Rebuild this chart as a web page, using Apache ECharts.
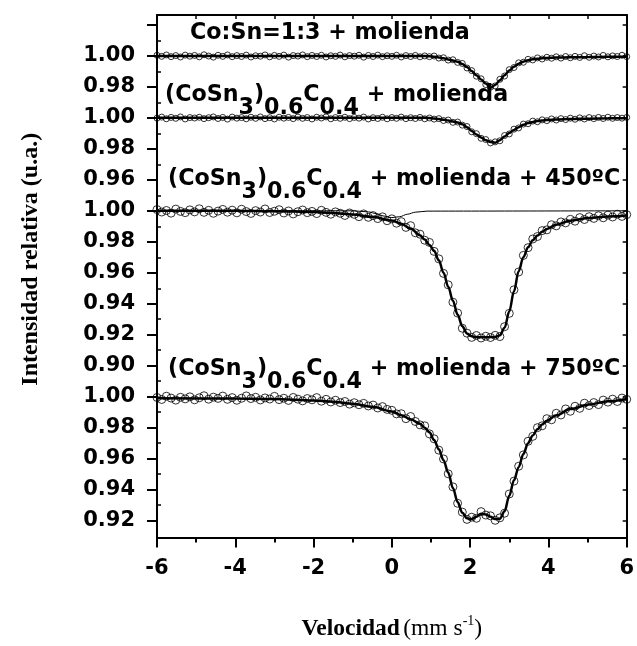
<!DOCTYPE html>
<html>
<head>
<meta charset="utf-8">
<script src="https://cdn.jsdelivr.net/npm/echarts@6/dist/echarts.min.js"></script>
<style>
  html, body { margin: 0; padding: 0; background: #fff; }
  #chart { width: 637px; height: 646px; }
</style>
</head>
<body>
<div id="chart"></div>
<script>
// Velocity channels (mm/s) of the measured spectra
const velocity = [
  -6.00, -5.88, -5.76, -5.64, -5.52, -5.40, -5.28, -5.16, -5.04, -4.92,
  -4.80, -4.68, -4.56, -4.44, -4.32, -4.20, -4.08, -3.96, -3.84, -3.72,
  -3.60, -3.48, -3.36, -3.24, -3.12, -3.00, -2.88, -2.76, -2.64, -2.52,
  -2.40, -2.28, -2.16, -2.04, -1.92, -1.80, -1.68, -1.56, -1.44, -1.32,
  -1.20, -1.08, -0.96, -0.84, -0.72, -0.60, -0.48, -0.36, -0.24, -0.12,
   0.00,  0.12,  0.24,  0.36,  0.48,  0.60,  0.72,  0.84,  0.96,  1.08,
   1.20,  1.32,  1.44,  1.56,  1.68,  1.80,  1.92,  2.04,  2.16,  2.28,
   2.40,  2.52,  2.64,  2.76,  2.88,  3.00,  3.12,  3.24,  3.36,  3.48,
   3.60,  3.72,  3.84,  3.96,  4.08,  4.20,  4.32,  4.44,  4.56,  4.68,
   4.80,  4.92,  5.04,  5.16,  5.28,  5.40,  5.52,  5.64,  5.76,  5.88,
   6.00
];

// Relative transmission, Co:Sn=1:3 + molienda
const coSn13 = [
  1.0004, 0.9997, 1.0006, 0.9995, 1.0002, 0.9993, 1.0005, 0.9998, 1.0003, 0.9994,
  1.0007, 0.9999, 0.9992, 1.0004, 0.9997, 1.0006, 0.9995, 1.0002, 0.9996, 1.0005,
  0.9993, 1.0001, 0.9998, 1.0006, 0.9994, 1.0003, 0.9997, 1.0005, 0.9992, 1.0002,
  0.9999, 1.0006, 0.9995, 1.0003, 0.9996, 1.0004, 0.9993, 1.0001, 0.9997, 1.0005,
  0.9994, 1.0002, 0.9998, 1.0004, 0.9992, 1.0003, 0.9996, 1.0005, 0.9995, 1.0001,
  0.9997, 1.0004, 0.9993, 1.0002, 0.9996, 1.0003, 0.9994, 1.0000, 0.9995, 0.9999,
  0.9986, 0.9988, 0.9973, 0.9975, 0.9958, 0.9951, 0.9922, 0.9905, 0.9869, 0.9852,
  0.9815, 0.9798, 0.9806, 0.9849, 0.9870, 0.9911, 0.9925, 0.9955, 0.9959, 0.9978,
  0.9974, 0.9987, 0.9980, 0.9991, 0.9985, 0.9994, 0.9986, 0.9996, 0.9988, 0.9997,
  0.9990, 1.0001, 0.9991, 0.9999, 0.9993, 1.0003, 0.9994, 1.0000, 0.9996, 1.0004,
  0.9995
];

// Relative transmission, (CoSn3)0.6C0.4 + molienda
const coSnC = [
  0.9998, 1.0005, 0.9994, 1.0003, 0.9997, 1.0006, 0.9993, 1.0002, 0.9999, 1.0004,
  0.9995, 1.0001, 1.0006, 0.9996, 1.0003, 0.9992, 1.0005, 0.9998, 1.0002, 0.9994,
  1.0004, 0.9997, 1.0006, 0.9995, 1.0001, 0.9993, 1.0004, 0.9998, 1.0003, 0.9995,
  1.0005, 0.9997, 1.0002, 0.9993, 1.0004, 0.9999, 1.0006, 0.9994, 1.0002, 0.9997,
  1.0004, 0.9995, 1.0003, 0.9998, 1.0005, 0.9993, 1.0001, 0.9996, 1.0004, 0.9994,
  1.0002, 0.9997, 1.0005, 0.9995, 1.0001, 0.9996, 1.0003, 0.9994, 0.9999, 0.9992,
  0.9995, 0.9983, 0.9986, 0.9971, 0.9973, 0.9953, 0.9944, 0.9910, 0.9898, 0.9868,
  0.9860, 0.9838, 0.9845, 0.9852, 0.9886, 0.9896, 0.9927, 0.9935, 0.9960, 0.9962,
  0.9979, 0.9975, 0.9987, 0.9982, 0.9993, 0.9986, 0.9995, 0.9989, 0.9998, 0.9991,
  1.0000, 0.9993, 1.0002, 0.9995, 1.0003, 0.9996, 1.0004, 0.9997, 1.0002, 0.9998,
  1.0003
];

// Relative transmission, (CoSn3)0.6C0.4 + molienda + 450 ºC
const coSnC450 = [
  1.0008, 0.9992, 1.0002, 0.9985, 1.0011, 0.9996, 0.9988, 1.0006, 0.9993, 1.0013,
  0.9990, 1.0003, 0.9984, 0.9998, 1.0009, 0.9991, 1.0004, 0.9987, 1.0010, 0.9995,
  0.9983, 1.0001, 0.9992, 1.0012, 0.9989, 0.9997, 1.0007, 0.9986, 0.9999, 0.9980,
  0.9994, 1.0005, 0.9988, 0.9996, 0.9982, 1.0003, 0.9990, 0.9978, 0.9993, 0.9984,
  0.9970, 0.9986, 0.9977, 0.9962, 0.9980, 0.9958, 0.9969, 0.9950, 0.9961, 0.9936,
  0.9948, 0.9920, 0.9930, 0.9893, 0.9904, 0.9858, 0.9849, 0.9810, 0.9796, 0.9738,
  0.9690, 0.9596, 0.9522, 0.9410, 0.9340, 0.9242, 0.9210, 0.9183, 0.9195, 0.9179,
  0.9190, 0.9182, 0.9196, 0.9188, 0.9252, 0.9338, 0.9490, 0.9605, 0.9712, 0.9762,
  0.9818, 0.9834, 0.9872, 0.9877, 0.9910, 0.9903, 0.9928, 0.9922, 0.9945, 0.9933,
  0.9956, 0.9944, 0.9962, 0.9951, 0.9968, 0.9955, 0.9972, 0.9960, 0.9978, 0.9964,
  0.9975
];

// Relative transmission, (CoSn3)0.6C0.4 + molienda + 750 ºC
const coSnC750 = [
  0.9995, 0.9982, 1.0003, 0.9991, 0.9978, 0.9996, 0.9986, 0.9999, 0.9980, 0.9993,
  1.0006, 0.9984, 0.9997, 0.9989, 1.0004, 0.9983, 0.9994, 0.9977, 0.9990, 1.0005,
  0.9988, 0.9996, 0.9979, 0.9992, 0.9985, 1.0002, 0.9981, 0.9990, 0.9976, 0.9995,
  0.9984, 0.9973, 0.9988, 0.9980, 0.9994, 0.9971, 0.9983, 0.9966, 0.9977, 0.9962,
  0.9969, 0.9952, 0.9961, 0.9948, 0.9957, 0.9940, 0.9946, 0.9927, 0.9936, 0.9918,
  0.9912, 0.9889, 0.9890, 0.9858, 0.9872, 0.9840, 0.9818, 0.9812, 0.9760, 0.9728,
  0.9655, 0.9598, 0.9502, 0.9418, 0.9312, 0.9255, 0.9208, 0.9222, 0.9215, 0.9258,
  0.9236, 0.9231, 0.9202, 0.9218, 0.9248, 0.9372, 0.9455, 0.9551, 0.9624, 0.9712,
  0.9744, 0.9800, 0.9812, 0.9858, 0.9851, 0.9893, 0.9882, 0.9921, 0.9906, 0.9938,
  0.9925, 0.9958, 0.9943, 0.9962, 0.9949, 0.9978, 0.9965, 0.9984, 0.9969, 0.9991,
  0.9983
];

// Fitted curves
const fitVelocity = [
  -6.00, -4.00, -3.00, -2.00, -1.50, -1.00, -0.50, 0.00, 0.24, 0.48,
   0.72,  0.84,  0.96,  1.08,  1.20,  1.32,  1.44, 1.56, 1.68, 1.80,
   1.92,  2.04,  2.16,  2.28,  2.40,  2.52,  2.64, 2.76, 2.88, 3.00,
   3.12,  3.24,  3.36,  3.48,  3.60,  3.72,  3.84, 3.96, 4.20, 4.56,
   5.04,  5.52,  6.00
];
const fitCoSn13 = [
  1.0000, 1.0000, 1.0000, 1.0000, 1.0000, 1.0000, 1.0000, 1.0000, 1.0000, 0.9999,
  0.9999, 0.9999, 0.9998, 0.9995, 0.9990, 0.9984, 0.9977, 0.9970, 0.9962, 0.9948,
  0.9928, 0.9902, 0.9875, 0.9848, 0.9822, 0.9795, 0.9812, 0.9843, 0.9875, 0.9905,
  0.9930, 0.9950, 0.9963, 0.9972, 0.9978, 0.9982, 0.9985, 0.9987, 0.9989, 0.9991,
  0.9993, 0.9994, 0.9995
];
const fitCoSnC = [
  1.0000, 1.0000, 1.0000, 1.0000, 1.0000, 1.0000, 1.0000, 1.0000, 1.0000, 1.0000,
  1.0000, 1.0000, 0.9999, 0.9996, 0.9992, 0.9988, 0.9983, 0.9977, 0.9970, 0.9958,
  0.9940, 0.9915, 0.9893, 0.9873, 0.9856, 0.9844, 0.9840, 0.9856, 0.9880, 0.9902,
  0.9922, 0.9940, 0.9955, 0.9966, 0.9974, 0.9979, 0.9983, 0.9986, 0.9989, 0.9992,
  0.9995, 0.9997, 0.9998
];
const fitCoSnC450 = [
  1.0000, 1.0000, 0.9997, 0.9993, 0.9986, 0.9976, 0.9961, 0.9937, 0.9916, 0.9886,
  0.9842, 0.9814, 0.9780, 0.9742, 0.9680, 0.9600, 0.9510, 0.9420, 0.9330, 0.9255,
  0.9208, 0.9190, 0.9185, 0.9184, 0.9184, 0.9185, 0.9186, 0.9196, 0.9245, 0.9350,
  0.9480, 0.9610, 0.9700, 0.9765, 0.9810, 0.9840, 0.9864, 0.9883, 0.9910, 0.9936,
  0.9954, 0.9964, 0.9970
];
const fitCoSnC750 = [
  0.9990, 0.9988, 0.9985, 0.9976, 0.9968, 0.9955, 0.9935, 0.9905, 0.9880, 0.9855,
  0.9825, 0.9800, 0.9770, 0.9720, 0.9660, 0.9590, 0.9510, 0.9410, 0.9320, 0.9250,
  0.9215, 0.9210, 0.9225, 0.9245, 0.9240, 0.9225, 0.9210, 0.9212, 0.9260, 0.9360,
  0.9460, 0.9545, 0.9630, 0.9700, 0.9750, 0.9790, 0.9820, 0.9845, 0.9880, 0.9920,
  0.9950, 0.9970, 0.9985
];

// Minor sub-spectrum of the 450 ºC sample
const subVelocity = [-6.00, -1.00, -0.60, -0.40, -0.20, 0.00, 0.20, 0.40, 0.60, 0.90, 6.00];
const sub450 = [1.0000, 1.0000, 0.9993, 0.9982, 0.9966, 0.9956, 0.9962, 0.9978, 0.9991, 0.9998, 1.0000];

// Vertical shift of each stacked spectrum on the shared axis
const offsetCoSn13 = 0.22;
const offsetCoSnC = 0.18;
const offsetCoSnC450 = 0.12;
const offsetCoSnC750 = 0.00;

// Tick positions on the stacked axis and the value printed at each
const yTickValues = [0.92, 0.94, 0.96, 0.98, 1.00, 1.02, 1.04, 1.06, 1.08, 1.10,
                     1.12, 1.14, 1.16, 1.18, 1.20, 1.22, 1.24];
const yTickLabels = ['0.92', '0.94', '0.96', '0.98', '1.00', '0.90', '0.92', '0.94', '0.96', '0.98',
                     '1.00', '0.96', '0.98', '1.00', '0.98', '1.00', ''];
const yMinorValues = [0.93, 0.95, 0.97, 0.99, 1.01, 1.03, 1.05, 1.07, 1.09, 1.11,
                      1.13, 1.15, 1.17, 1.19, 1.21, 1.23];

const SANS = '"DejaVu Sans", "Liberation Sans", Arial, sans-serif';
const SERIF = '"Liberation Serif", "Times New Roman", serif';

function shifted(xs, ys, off) {
  return xs.map((x, i) => [x, +(ys[i] + off).toFixed(4)]);
}

function pointSeries(values, off, size) {
  return {
    type: 'scatter',
    data: shifted(velocity, values, off),
    symbol: 'circle',
    symbolSize: size,
    itemStyle: { color: 'rgba(0,0,0,0)', borderColor: '#000', borderWidth: 1 },
    silent: true,
    z: 2
  };
}

function fitSeries(xs, values, off, width) {
  return {
    type: 'line',
    data: shifted(xs, values, off),
    showSymbol: false,
    symbol: 'none',
    smooth: 0.35,
    smoothMonotone: 'x',
    lineStyle: { color: '#000', width: width },
    silent: true,
    z: 3
  };
}

const tickFont = { fontFamily: SANS, fontWeight: 'bold', fontSize: 21, color: '#000' };

const sampleRich = {
  m: { fontFamily: SANS, fontWeight: 'bold', fontSize: 22.2, color: '#000' },
  s: { fontFamily: SANS, fontWeight: 'bold', fontSize: 22.2, color: '#000', padding: [26, 0, 0, 0] }
};

function sampleLabel(x, y, text) {
  return {
    type: 'text',
    x: x,
    y: y,
    silent: true,
    style: {
      text: text,
      rich: sampleRich,
      align: 'left',
      verticalAlign: 'middle',
      fill: '#000',
      font: 'bold 22.2px ' + SANS
    }
  };
}

const chart = echarts.init(document.getElementById('chart'), null, { renderer: 'canvas' });

chart.setOption({
  animation: false,
  backgroundColor: '#fff',
  grid: { left: 157, right: 7, top: 15, bottom: 104, containLabel: false },
  xAxis: [
    {
      type: 'value',
      position: 'bottom',
      min: -6, max: 6, interval: 2,
      axisLine: { show: true, onZero: false, lineStyle: { color: '#000', width: 2 } },
      axisTick: { show: true, inside: false, length: 10, lineStyle: { color: '#000', width: 2 } },
      minorTick: { show: true, splitNumber: 2, length: 5, lineStyle: { color: '#000', width: 2 } },
      splitLine: { show: false },
      axisLabel: Object.assign({ margin: 21, formatter: v => String(v) }, tickFont),
      name: '{b|Velocidad} {r|(mm s}{p|-1}{r|)}',
      nameLocation: 'middle',
      nameGap: 77,
      nameTextStyle: {
        rich: {
          b: { fontFamily: SERIF, fontWeight: 'bold', fontSize: 23.5, color: '#000' },
          r: { fontFamily: SERIF, fontWeight: 'normal', fontSize: 23.5, color: '#000' },
          p: { fontFamily: SERIF, fontWeight: 'normal', fontSize: 14, color: '#000', padding: [0, 0, 15, 0] }
        }
      }
    },
    {
      type: 'value',
      position: 'top',
      min: -6, max: 6, interval: 1,
      axisLine: { show: true, onZero: false, lineStyle: { color: '#000', width: 2 } },
      axisTick: { show: true, inside: true, length: 4, lineStyle: { color: '#000', width: 1.5 } },
      axisLabel: { show: false },
      splitLine: { show: false }
    }
  ],
  yAxis: [
    {
      type: 'value',
      position: 'left',
      min: 0.9091, max: 1.2464,
      axisLine: { show: true, onZero: false, lineStyle: { color: '#000', width: 2 } },
      axisTick: { show: true, inside: false, length: 10, customValues: yTickValues,
                  lineStyle: { color: '#000', width: 2 } },
      axisLabel: Object.assign({
        margin: 22,
        customValues: yTickValues,
        formatter: v => {
          const i = yTickValues.findIndex(t => Math.abs(t - v) < 1e-6);
          return i < 0 ? '' : yTickLabels[i];
        }
      }, tickFont),
      splitLine: { show: false },
      name: 'Intensidad relativa (u.a.)',
      nameLocation: 'middle',
      nameRotate: 90,
      nameGap: 114,
      nameTextStyle: { fontFamily: SERIF, fontWeight: 'bold', fontSize: 24, color: '#000',
                       padding: [0, 0, 0, 34] }
    },
    {
      type: 'value',
      position: 'left',
      min: 0.9091, max: 1.2464,
      axisLine: { show: false, onZero: false },
      axisTick: { show: true, inside: true, length: 4, customValues: yMinorValues,
                  lineStyle: { color: '#000', width: 1.5 } },
      axisLabel: { show: false, customValues: yMinorValues },
      splitLine: { show: false }
    },
    {
      type: 'value',
      position: 'right',
      min: 0.9091, max: 1.2464,
      axisLine: { show: true, onZero: false, lineStyle: { color: '#000', width: 2 } },
      axisTick: { show: true, inside: true, length: 4, customValues: yTickValues,
                  lineStyle: { color: '#000', width: 1.5 } },
      axisLabel: { show: false, customValues: yTickValues },
      splitLine: { show: false }
    }
  ],
  series: [
    pointSeries(coSn13, offsetCoSn13, 6),
    pointSeries(coSnC, offsetCoSnC, 6),
    pointSeries(coSnC450, offsetCoSnC450, 8),
    pointSeries(coSnC750, offsetCoSnC750, 8),
    fitSeries(fitVelocity, fitCoSn13, offsetCoSn13, 2.5),
    fitSeries(fitVelocity, fitCoSnC, offsetCoSnC, 2.5),
    fitSeries(fitVelocity, fitCoSnC450, offsetCoSnC450, 2.5),
    fitSeries(fitVelocity, fitCoSnC750, offsetCoSnC750, 2.5),
    fitSeries(subVelocity, sub450, offsetCoSnC450, 1)
  ],
  graphic: [
    sampleLabel(190, 33, '{m|Co:Sn=1:3 + molienda}'),
    sampleLabel(165, 95, '{m|(CoSn}{s|3}{m|)}{s|0.6}{m|C}{s|0.4}{m| + molienda}'),
    sampleLabel(168, 179, '{m|(CoSn}{s|3}{m|)}{s|0.6}{m|C}{s|0.4}{m| + molienda + 450ºC}'),
    sampleLabel(168, 369, '{m|(CoSn}{s|3}{m|)}{s|0.6}{m|C}{s|0.4}{m| + molienda + 750ºC}')
  ]
});
</script>
</body>
</html>
